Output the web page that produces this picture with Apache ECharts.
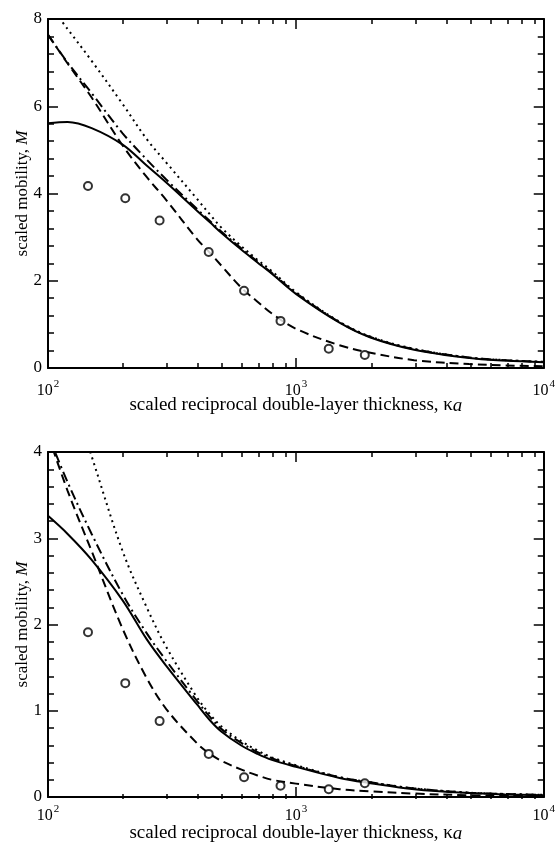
<!DOCTYPE html>
<html>
<head>
<meta charset="utf-8">
<script src="https://cdn.jsdelivr.net/npm/echarts@6/dist/echarts.min.js"></script>
<style>
html,body{margin:0;padding:0;background:#fff;}
#c{width:558px;height:844px;}
</style>
</head>
<body>
<div id="c"></div>
<script>
// ---- data ----
const xs = [100,120,150,200,250,300,400,450,500,600,700,800,1000,1500,2000,3000,5000,7000,10000];

// top panel
const solidA   = [5.61,5.64,5.50,5.12,4.64,4.25,3.60,3.34,3.10,2.72,2.42,2.16,1.70,1.04,0.70,0.42,0.23,0.17,0.13];
const dashA    = [7.64,6.98,6.20,5.10,4.38,3.85,2.95,2.64,2.35,1.85,1.52,1.25,0.90,0.52,0.35,0.18,0.09,0.06,0.04];
const dashDotA = [7.64,7.00,6.30,5.38,4.78,4.32,3.64,3.37,3.13,2.75,2.44,2.18,1.72,1.05,0.71,0.43,0.24,0.18,0.14];
const dotA     = [8.36,7.77,7.04,6.05,5.25,4.71,3.87,3.52,3.22,2.80,2.48,2.22,1.74,1.06,0.72,0.44,0.24,0.18,0.14];

// bottom panel
const solidB   = [3.26,3.05,2.75,2.28,1.83,1.52,1.07,0.89,0.76,0.60,0.50,0.43,0.35,0.22,0.16,0.09,0.045,0.03,0.02];
const dashB    = [4.20,3.55,2.85,1.95,1.38,1.02,0.62,0.50,0.42,0.32,0.25,0.20,0.155,0.09,0.065,0.04,0.02,0.015,0.01];
const dashDotB = [4.20,3.65,3.05,2.35,1.90,1.58,1.11,0.93,0.79,0.63,0.52,0.45,0.36,0.23,0.17,0.10,0.05,0.035,0.025];
const dotB     = [5.60,4.80,3.95,2.85,2.20,1.74,1.15,0.96,0.82,0.65,0.54,0.46,0.37,0.23,0.17,0.10,0.05,0.035,0.025];

// measured points (circles)
const cx  = [145,205,282,445,618,867,1357,1897];
const cyA = [4.17,3.89,3.38,2.66,1.77,1.08,0.44,0.30];
const cyB = [1.91,1.32,0.88,0.50,0.23,0.13,0.09,0.16];

// tick values
const xMajor = [100,1000,10000];
const xMinor = [200,300,400,500,600,700,800,900,2000,3000,4000,5000,6000,7000,8000,9000];

const xTitle = '{n|scaled reciprocal double-layer thickness, κ}{i|a}';
const yTitle = '{n|scaled mobility, }{i|M}';

// ---- chart ----
const FONT = 'Liberation Serif';
const BLACK = '#000';
const chart = echarts.init(document.getElementById('c'));

const panels = [
  {top:19, height:349, ymax:8, yint:2, yminorSplit:5, labelMargin:11, titleGap:28},
  {top:452, height:347, ymax:4, yint:1, yminorSplit:5, labelMargin:7, titleGap:27}
];

const grids=[], xAxes=[], yAxes=[];
const richX = {
  n:{fontFamily:FONT, fontSize:19, color:BLACK},
  i:{fontFamily:FONT, fontSize:19, color:BLACK, fontStyle:'italic'}
};
const richY = {
  n:{fontFamily:FONT, fontSize:17, color:BLACK},
  i:{fontFamily:FONT, fontSize:17, color:BLACK, fontStyle:'italic'}
};
function xLab(v){
  const e = Math.round(Math.log10(v));
  return '{b|10}{s|' + e + '}';
}
panels.forEach((p) => {
  for (let t = 0; t < 2; t++) {
    grids.push({left:48, right:12, top:p.top, height:p.height});
    const gi = grids.length - 1;
    const main = (t === 0);
    ['bottom','top'].forEach(pos => {
      const showLab = main && pos === 'bottom';
      xAxes.push({
        gridIndex:gi, type:'log', logBase:10, min:100, max:10000, position:pos,
        axisLine:{show:main, onZero:false, lineStyle:{color:BLACK, width:2}},
        axisTick:{show:true, inside:true, length: main ? 10 : 5,
                  customValues: main ? xMajor : xMinor,
                  lineStyle:{color:BLACK, width:1.5}},
        minorTick:{show:false},
        splitLine:{show:false},
        axisLabel:{show:showLab, margin:p.labelMargin, customValues:xMajor,
          formatter:xLab,
          rich:{
            b:{fontFamily:FONT, fontSize:16, color:BLACK, padding:[4,0,0,0]},
            s:{fontFamily:FONT, fontSize:11, color:BLACK, verticalAlign:'top', padding:[0,0,0,1]}
          }},
        name: showLab ? xTitle : '',
        nameLocation:'middle', nameGap:p.titleGap, nameMoveOverlap:false,
        nameTextStyle:{rich:richX}
      });
    });
    ['left','right'].forEach(pos => {
      if (!main) {
        yAxes.push({gridIndex:gi, type:'value', min:0, max:p.ymax, show:false, position:pos});
        return;
      }
      const showLab = pos === 'left';
      yAxes.push({
        gridIndex:gi, type:'value', min:0, max:p.ymax, interval:p.yint, position:pos,
        axisLine:{show:true, onZero:false, lineStyle:{color:BLACK, width:2}},
        axisTick:{show:true, inside:true, length:10, lineStyle:{color:BLACK, width:1.5}},
        minorTick:{show:true, splitNumber:p.yminorSplit, length:6, lineStyle:{color:BLACK, width:1.5}},
        splitLine:{show:false},
        axisLabel:{show:showLab, margin:6, fontFamily:FONT, fontSize:17, color:BLACK},
        name: showLab ? yTitle : '',
        nameLocation:'middle', nameGap:17, nameRotate:90, nameMoveOverlap:false,
        nameTextStyle:{rich:richY}
      });
    });
  }
});

function pairs(xv, yv){ return xv.map((x,i)=>[x, yv[i]]); }
function lineSeries(xi, yi, data, type, width){
  return {
    type:'line', xAxisIndex:xi, yAxisIndex:yi, data:pairs(xs, data),
    showSymbol:false, symbol:'none', smooth:0.35, clip:true, silent:true,
    lineStyle:{color:BLACK, width:width, type:type}
  };
}
function scatterSeries(xi, yi, yv){
  return {
    type:'scatter', xAxisIndex:xi, yAxisIndex:yi, data:pairs(cx, yv),
    symbol:'circle', symbolSize:8, silent:true,
    itemStyle:{color:'#fff', borderColor:BLACK, borderWidth:2}, z:5
  };
}

const series = [
  lineSeries(0,0, solidA, 'solid', 2),
  lineSeries(0,0, dashA, [9,5], 2),
  lineSeries(0,0, dashDotA, [10,4,2,4], 2),
  lineSeries(0,0, dotA, [2,4], 2),
  scatterSeries(0,0, cyA),
  lineSeries(4,4, solidB, 'solid', 2),
  lineSeries(4,4, dashB, [9,5], 2),
  lineSeries(4,4, dashDotB, [10,4,2,4], 2),
  lineSeries(4,4, dotB, [2,4], 2),
  scatterSeries(4,4, cyB)
];

chart.setOption({
  animation:false,
  backgroundColor:'#fff',
  textStyle:{fontFamily:FONT, color:BLACK},
  grid:grids, xAxis:xAxes, yAxis:yAxes, series:series
});
</script>
</body>
</html>
